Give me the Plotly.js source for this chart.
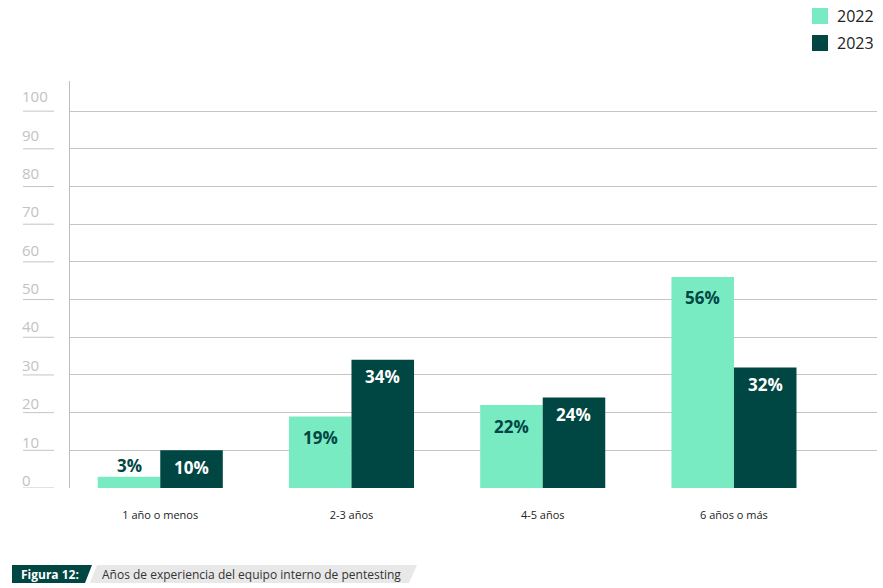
<!DOCTYPE html>
<html>
<head>
<meta charset="utf-8">
<script src="https://cdn.plot.ly/plotly-3.0.1.min.js"></script>
<style>
  html, body { margin: 0; padding: 0; background: #fff; }
  #chart { width: 883px; height: 588px; }
</style>
</head>
<body>
<div id="chart"></div>
<script>
// data
const categories = ["1 año o menos", "2-3 años", "4-5 años", "6 años o más"];
const seriesNames = ["2022", "2023"];
const values2022 = [3, 19, 22, 56];
const values2023 = [10, 34, 24, 32];
const yTicks = [0, 10, 20, 30, 40, 50, 60, 70, 80, 90, 100];
const figLabel = "Figura 12:";
const figCaption = "Años de experiencia del equipo interno de pentesting";

const colors = ["#78ebc3", "#004643"];
const W = 883, H = 588;
const M = { l: 70, r: 6, t: 81, b: 100 };
const FONT = "Open Sans, DejaVu Sans, sans-serif";

// pixel -> paper helpers, for the decorations outside the plot
function px(x) { return (x - M.l) / (W - M.l - M.r); }
function py(y) { return (H - M.b - y) / (H - M.t - M.b); }

const bargap = 0.346;
const half = (1 - bargap) / 4;   // offset of each bar centre in category units

const traces = [values2022, values2023].map((vals, s) => ({
    type: "bar",
    name: seriesNames[s],
    x: categories,
    y: vals,
    marker: { color: colors[s] },
    hoverinfo: "skip"
}));

let annotations = [];
// value labels
[values2022, values2023].forEach((vals, s) => {
    vals.forEach((v, i) => {
        let outside = s === 0 && v < 6;
        annotations.push({
            xref: "x", yref: "y",
            x: i + (s === 0 ? -half : half), y: v,
            text: "<b>" + v + "%</b>",
            showarrow: false,
            yshift: outside ? 11 : (s === 0 ? -21 : -17),
            font: { family: FONT, size: 17, color: s === 0 || outside ? "#004643" : "#ffffff" }
        });
    });
});
// y tick labels, left aligned and sitting above their line
yTicks.forEach(v => {
    annotations.push({
        xref: "paper", yref: "y",
        x: px(20), y: v, xanchor: "left",
        text: String(v), showarrow: false,
        yshift: 8 + 0.07 * v,
        font: { family: FONT, size: 15, color: "#c2c2c2" }
    });
});
// legend
seriesNames.forEach((n, s) => {
    annotations.push({
        xref: "paper", yref: "paper",
        x: px(835), y: py(16 + 27 * s), xanchor: "left", yanchor: "middle",
        text: n, showarrow: false,
        font: { family: FONT, size: 16, color: "#222" }
    });
});
// caption
annotations.push({
    xref: "paper", yref: "paper", x: px(19), y: py(574), xanchor: "left", yanchor: "middle",
    text: "<b>" + figLabel + "</b>", showarrow: false,
    font: { family: FONT, size: 12, color: "#ffffff" }
});
annotations.push({
    xref: "paper", yref: "paper", x: px(100), y: py(574), xanchor: "left", yanchor: "middle",
    text: figCaption, showarrow: false,
    font: { family: FONT, size: 12, color: "#333" }
});

let shapes = [];
// short stubs under the y labels
yTicks.forEach(v => {
    shapes.push({
        type: "line", xref: "paper", yref: "y",
        x0: px(23), x1: px(54), y0: v, y1: v,
        line: { color: "#c4c4c4", width: 1 }
    });
});
// legend squares
seriesNames.forEach((n, s) => {
    shapes.push({
        type: "rect", xref: "paper", yref: "paper",
        x0: px(812), x1: px(828), y0: py(8 + 27 * s), y1: py(24 + 27 * s),
        fillcolor: colors[s], line: { width: 0 }
    });
});
// caption boxes
function path(pts) {
    return "M" + pts.map(p => px(p[0]) + "," + py(p[1])).join("L") + "Z";
}
shapes.push({
    type: "path", xref: "paper", yref: "paper",
    path: path([[12, 565], [92, 565], [85, 583], [12, 583]]),
    fillcolor: "#004643", line: { width: 0 }
});
shapes.push({
    type: "path", xref: "paper", yref: "paper",
    path: path([[97, 565], [417, 565], [409, 583], [90, 583]]),
    fillcolor: "#e8e8e8", line: { width: 0 }
});

const layout = {
    width: W, height: H,
    margin: M,
    paper_bgcolor: "#fff",
    plot_bgcolor: "#fff",
    showlegend: false,
    barmode: "group",
    bargap: bargap,
    bargroupgap: 0,
    font: { family: FONT, color: "#222" },
    xaxis: {
        type: "category",
        range: [-0.472, 3.748],
        showgrid: false,
        zeroline: false,
        showline: false,
        ticks: "outside",
        ticklen: 17,
        tickcolor: "rgba(0,0,0,0)",
        tickfont: { family: FONT, size: 11, color: "#222" }
    },
    yaxis: {
        range: [0, 108],
        tickvals: yTicks,
        showticklabels: false,
        showgrid: true,
        gridcolor: "#c4c4c4",
        gridwidth: 1,
        zeroline: false,
        showline: true,
        linecolor: "#bdbdbd",
        linewidth: 1,
        fixedrange: true
    },
    annotations: annotations,
    shapes: shapes
};

Plotly.newPlot("chart", traces, layout, { displayModeBar: false, staticPlot: true });
</script>
</body>
</html>
